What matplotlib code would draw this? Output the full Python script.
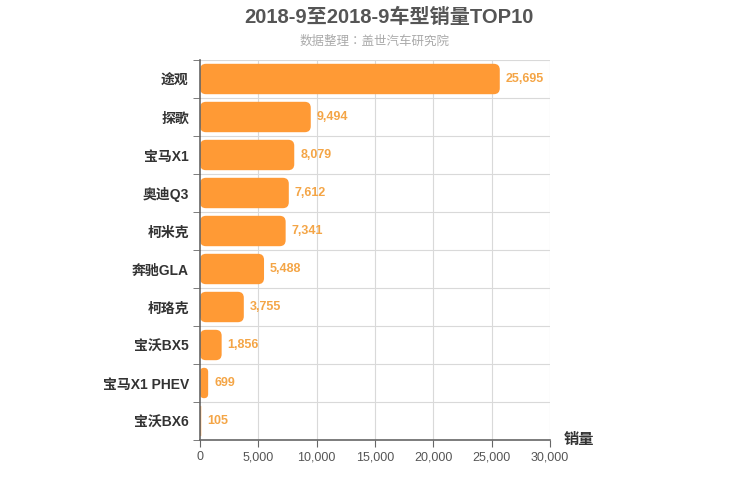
import matplotlib
matplotlib.use("Agg")
import matplotlib.pyplot as plt
from matplotlib.patches import FancyBboxPatch
from matplotlib.ticker import FuncFormatter

plt.rcParams['font.family'] = ['Liberation Sans', 'Noto Sans CJK SC', 'DejaVu Sans']

models = ['途观', '探歌', '宝马X1', '奥迪Q3', '柯米克', '奔驰GLA', '柯珞克',
          '宝沃BX5', '宝马X1 PHEV', '宝沃BX6']
sales = [25695, 9494, 8079, 7612, 7341, 5488, 3755, 1856, 699, 105]
xticks = [0, 5000, 10000, 15000, 20000, 25000, 30000]

bar_color = '#FF9A35'
label_color = '#F4A546'

fig = plt.figure(figsize=(7.5, 5), dpi=100)
ax = fig.add_axes([200 / 750, 0.12, 350 / 750, 0.76])

xmax = 30000
n = len(models)
ax.set_xlim(0, xmax)
ax.set_ylim(n - 0.5, -0.5)

# corner radius ~6px converted into data units
px_x = xmax / 350.0
px_y = n / 380.0
r_px = 6
bar_h = 0.8
aspect = px_y / px_x
for i, v in enumerate(sales):
    r = min(r_px * px_x, v / 2.0)
    p = FancyBboxPatch((0, i - bar_h / 2), v, bar_h,
                       boxstyle=f"round,pad=0,rounding_size={r}",
                       mutation_aspect=aspect,
                       facecolor=bar_color, edgecolor='none', zorder=3)
    ax.add_patch(p)
    ax.text(v + 6 * px_x, i, f"{v:,}", va='center', ha='left',
            fontsize=9, color=label_color, fontweight='bold', zorder=4)

# grid
for b in range(n + 1):
    ax.axhline(b - 0.5, color='#d9d9d9', lw=0.8, zorder=1)
for t in xticks[1:]:
    ax.axvline(t, color='#d9d9d9', lw=0.8, zorder=1)

ax.set_xticks(xticks)
ax.xaxis.set_major_formatter(FuncFormatter(lambda v, p: f"{int(v):,}"))
ax.set_yticks(range(n))
ax.set_yticklabels(models)
ax.set_yticks([b - 0.5 for b in range(n + 1)], minor=True)
ax.tick_params(axis='y', which='major', length=0, pad=8, labelsize=10,
               labelcolor='#333333')
ax.tick_params(axis='y', which='minor', length=5, color='#666666')
ax.tick_params(axis='x', length=5, color='#666666', labelsize=9,
               labelcolor='#555555', pad=3)
for lab in ax.get_yticklabels():
    lab.set_fontweight('bold')

for s in ['top', 'right']:
    ax.spines[s].set_visible(False)
for s in ['left', 'bottom']:
    ax.spines[s].set_color('#666666')
    ax.spines[s].set_linewidth(1.2)
    ax.spines[s].set_zorder(5)

ax.text(1.04, 0.0, '销量', transform=ax.transAxes, fontsize=11,
        fontweight='bold', color='#333333', ha='left', va='center')

fig.text(0.519, 1 - 17 / 500, '2018-9至2018-9车型销量TOP10', ha='center',
         va='center', fontsize=14.5, fontweight='bold', color='#555555')
fig.text(0.5, 1 - 41 / 500, '数据整理：盖世汽车研究院', ha='center',
         va='center', fontsize=9, color='#aaaaaa',
         family=['Noto Sans CJK TC', 'DejaVu Sans'])

fig.savefig('out.png', dpi=100)
